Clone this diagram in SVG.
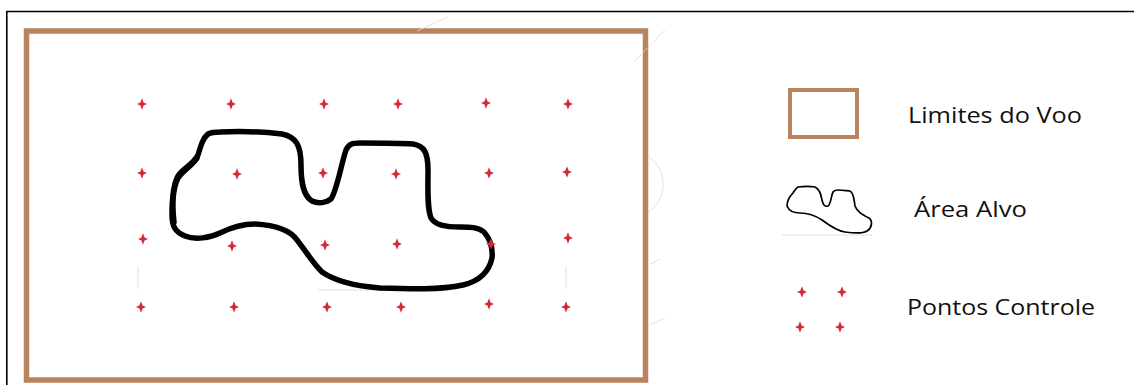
<svg xmlns="http://www.w3.org/2000/svg" width="1134" height="385" viewBox="0 0 1134 385">
<style>
.frame{fill:none;stroke:#000;stroke-width:1.6}
.bound{fill:none;stroke:#b9835e;stroke-width:5.5}
.blob{fill:none;stroke:#000;stroke-width:5.5;stroke-linejoin:round;stroke-linecap:round}
.blobs{fill:none;stroke:#000;stroke-width:1.7;stroke-linejoin:round}
.pt{fill:#d42a33}
.lbl{font-family:"Open Sans","Noto Sans",sans-serif;font-size:22px;fill:#111}
.faint{fill:none;stroke:#d8d8d8;stroke-width:0.8}
</style>
<defs>
<path id="star" d="M0,-5.8 L1.6,-1.6 L5,0 L1.6,1.6 L0,5.8 L-1.6,1.6 L-5,0 L-1.6,-1.6 Z"/>
</defs>
<rect width="1134" height="385" fill="#fff"/>
<g id="frame">
<path class="frame" d="M6.8,385 V11.5 H1134"/>
</g>
<g id="flight-limits">
<rect class="bound" x="26.5" y="31" width="619" height="349"/>
</g>
<g id="faint-marks">
<path class="faint" d="M417,31 L448,17 M634,62 L665,30 M649,157 C668,170 668,200 648,212 M651,264 L660,259 M650,325 L665,318 M138,267 V289 M566,267 V289 M318,290 H400"/>
</g>
<g id="target-area">
<path class="blob" d="M220,132 C240,131 265,132 282,134 C296,137 301,145 301,165 C301,185 304,196 312,201 C318,204 326,203 331,199 C337,190 341,165 346,150 C349,144 352,143 360,143 C380,143 400,143 413,144 C424,146 428,152 428,170 C428,190 427,208 431,218 C435,225 445,227 460,227 C470,227 478,227 484,232 C491,240 493,248 492,258 C489,272 480,281 463,285 C440,290 410,289 380,288 C355,286 335,281 322,272 C312,262 305,250 297,240 C290,230 275,225 255,224 C240,224 230,228 220,233 C210,238 195,240 185,236 C175,232 172,226 172,215 C172,200 173,185 178,176 C183,168 193,165 198,155 C201,145 203,138 208,134 C212,132 216,132 220,132 Z"/>
<path class="blob" stroke-width="3" d="M174,222 C172,205 173,188 178,178 C184,169 192,166 197,158"/>
</g>
<g id="control-points">
<use href="#star" class="pt" x="142" y="104"/>
<use href="#star" class="pt" x="231" y="104"/>
<use href="#star" class="pt" x="324" y="104"/>
<use href="#star" class="pt" x="398" y="104"/>
<use href="#star" class="pt" x="486" y="103"/>
<use href="#star" class="pt" x="568" y="104"/>
<use href="#star" class="pt" x="142" y="173"/>
<use href="#star" class="pt" x="237" y="174"/>
<use href="#star" class="pt" x="323" y="173"/>
<use href="#star" class="pt" x="396" y="174"/>
<use href="#star" class="pt" x="489" y="173"/>
<use href="#star" class="pt" x="567" y="172"/>
<use href="#star" class="pt" x="143" y="239"/>
<use href="#star" class="pt" x="232" y="246"/>
<use href="#star" class="pt" x="325" y="245"/>
<use href="#star" class="pt" x="397" y="244"/>
<use href="#star" class="pt" x="491" y="244"/>
<use href="#star" class="pt" x="568" y="238"/>
<use href="#star" class="pt" x="141" y="307"/>
<use href="#star" class="pt" x="234" y="307"/>
<use href="#star" class="pt" x="327" y="307"/>
<use href="#star" class="pt" x="401" y="307"/>
<use href="#star" class="pt" x="489" y="304"/>
<use href="#star" class="pt" x="566" y="307"/>
</g>
<g id="legend-limits">
<rect x="790" y="90" width="67" height="47" fill="none" stroke="#b9835e" stroke-width="4"/>
<text class="lbl" x="908" y="123" textLength="174" lengthAdjust="spacingAndGlyphs">Limites do Voo</text>
</g>
<g id="legend-target">
<path class="blobs" d="M798,187 C805,186 810,186 815,187 C820,189 821,195 822,200 C823,205 825,207 828,206 C831,204 831,196 833,192 C835,189 840,190 850,191 C854,193 854,200 855,206 C857,212 863,215 869,218 C873,221 872,228 867,231 C862,234 852,233 845,232 C838,231 830,226 822,220 C816,216 808,213 800,213 C794,213 789,211 787,206 C787,200 790,196 793,193 C795,190 796,188 798,187 Z"/>
<path class="faint" d="M782,235 H872"/>
<text class="lbl" x="914" y="217" textLength="113" lengthAdjust="spacingAndGlyphs">Área Alvo</text>
</g>
<g id="legend-points">
<use href="#star" class="pt" x="802" y="292"/>
<use href="#star" class="pt" x="842" y="292"/>
<use href="#star" class="pt" x="800" y="327"/>
<use href="#star" class="pt" x="840" y="327"/>
<text class="lbl" x="907" y="315" textLength="188" lengthAdjust="spacingAndGlyphs">Pontos Controle</text>
</g>
</svg>
